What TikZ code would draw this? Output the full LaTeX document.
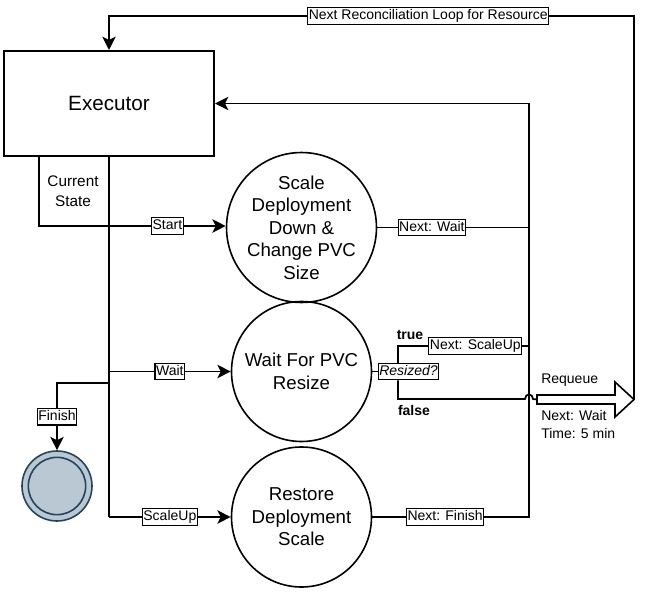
\documentclass[tikz,border=0pt]{standalone}
\usepackage{fontspec}
\setmainfont{Liberation Sans}
\usetikzlibrary{arrows.meta}
\definecolor{finfill}{HTML}{BAC8D3}
\definecolor{finline}{HTML}{23445D}
\tikzset{
  conn/.style={line width=1.3pt, draw=black},
  arr/.style={conn, -{Stealth[length=10pt,width=10pt,inset=2.5pt]}},
  lab/.style={draw=black, line width=0.9pt, fill=white, font=\fontsize{10.5}{12}\selectfont,
    inner xsep=0.8pt, inner ysep=1pt, text height=8pt, text depth=2.5pt},
  state/.style={circle, draw=black, line width=1.2pt, minimum size=105pt, inner sep=0pt,
    align=center, font=\fontsize{14}{16.9}\selectfont},
  execbox/.style={draw=black, line width=1.5pt, minimum width=157.5pt, minimum height=78.75pt,
    font=\fontsize{15.5}{18}\selectfont},
  plain/.style={font=\fontsize{10.5}{13.5}\selectfont, inner sep=0pt},
  boldlab/.style={font=\bfseries\fontsize{10.5}{12}\selectfont, inner sep=0pt}
}
\begin{document}
\begin{tikzpicture}[x=0.75pt,y=-0.75pt]
\useasboundingbox (0,0) rectangle (665,592);

% nodes
\node[execbox] (ex) at (109,103.5) {Executor};
\node[state] (c1) at (301.5,227.5) {Scale\\Deployment\\Down \&\\Change PVC\\Size};
\node[state] (c2) at (301.5,371.5) {Wait For PVC\\Resize};
\node[state] (c3) at (301.5,517) {Restore\\Deployment\\Scale};
\node[circle, draw=finline, fill=finfill, line width=1.2pt, minimum size=52.5pt, inner sep=0pt] (fin) at (57,486) {};
\node[circle, draw=finline, line width=1.2pt, minimum size=43pt, inner sep=0pt] (finin) at (57,486) {};
\node[font=\fontsize{11.5}{15}\selectfont, align=center, inner sep=0pt] (cs) at (73,191) {Current\\State};

% coordinates
\coordinate (csA) at (39,156);
\coordinate (csB) at (39,226);
\coordinate (busStart) at (109,226);
\coordinate (busWait) at (109,371.5);
\coordinate (busFin) at (109,383);
\coordinate (busEnd) at (109,517);
\coordinate (finTop) at (57,383);
\coordinate (rtop) at (529,103.5);
\coordinate (r1) at (529,227.5);
\coordinate (r3) at (529,517);
\coordinate (tip) at (634,399.5);
\coordinate (tipTop) at (634,16);
\coordinate (exTop) at (109,16);

% current state bracket
\draw[conn] (csA) -- (csB) -- (busStart);

% bus
\draw[conn] (ex.south) -- (busEnd);
\draw[arr] (busStart) -- node[lab]{Start} (c1.west |- busStart);
\draw[arr] (busWait) -- node[lab]{Wait} (c2.west);
\draw[arr] (busEnd) -- node[lab]{ScaleUp} (c3.west);
\draw[arr] (busFin) -- (finTop) -- node[lab]{Finish} (fin.north);

% right side
\draw[conn] (c1.east) -- node[lab,pos=0.36]{Next: Wait} (r1);
\draw[arr] (c3.east) -- node[lab,pos=0.465]{Next: Finish} (r3) -- (rtop) -- (ex.east);

% resized decision
\node[lab, font=\itshape\fontsize{10.5}{12}\selectfont] (res) at (408.5,371.5) {Resized?};
\draw[conn] (c2.east) -- (res.west);
\coordinate (tUp) at (398,346);
\coordinate (tR) at (529,346);
\coordinate (fDn) at (398,399);
\coordinate (hopA) at (525,399);
\coordinate (hopB) at (533,399);
\coordinate (bodyL) at (537,399.5);
\draw[conn] (res.north -| tUp) -- (tUp) -- node[lab,pos=0.59]{Next: ScaleUp} (tR);
\draw[conn] (res.south -| fDn) -- (fDn) -- (hopA) .. controls (525,393) and (533,393) .. (hopB) -- (bodyL);
\node[boldlab] (tt) at (410,335) {true};
\node[boldlab] (ff) at (414,410) {false};

% requeue block arrow
\draw[line width=1.2pt, fill=white] (537,395) -- (615,395) -- (615,382) -- (tip) -- (615,417) -- (615,404) -- (537,404) -- cycle;
\node[plain, anchor=west] (rq) at (541,380) {Requeue};
\node[plain, anchor=west] (nw) at (541,415) {Next: Wait};
\node[plain, anchor=west] (tm) at (541,433) {Time: 5 min};

% loop back
\draw[arr] (tip) -- (tipTop) -- node[lab,pos=0.392]{Next Reconciliation Loop for Resource} (exTop) -- (ex.north);
\end{tikzpicture}
\end{document}
